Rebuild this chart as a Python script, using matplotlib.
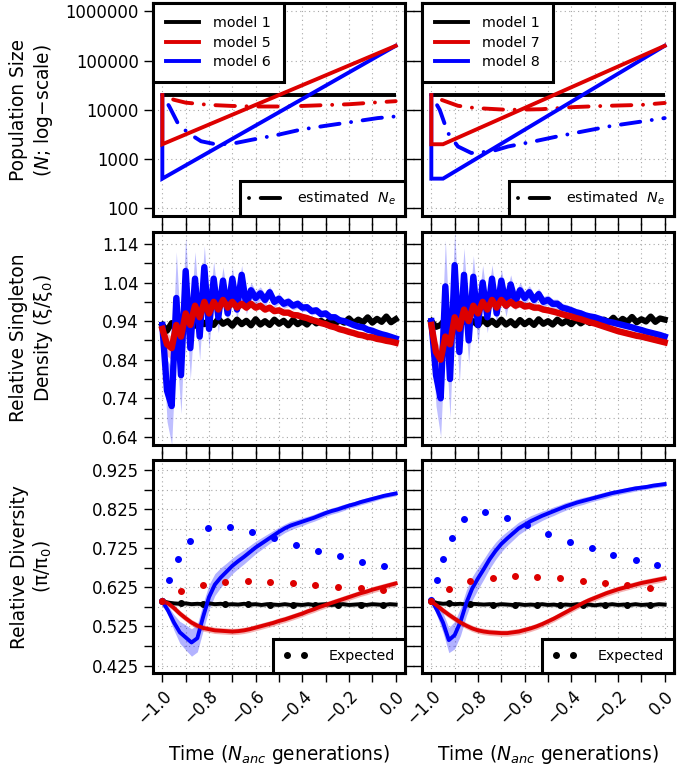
import numpy as np
import matplotlib
matplotlib.use("Agg")
import matplotlib.pyplot as plt
from matplotlib.lines import Line2D
from matplotlib.ticker import NullLocator

plt.rcParams['font.family'] = ['DejaVu Sans']
plt.rcParams['mathtext.fontset'] = 'dejavusans'

BLACK = '#000000'
RED = '#dd0000'
BLUE = '#0000ff'

# ---------------- top row: population size histories ----------------
m1_t = [-1.0, 0.0]
m1_n = [20000, 20000]
m5_t = [-1.0, -1.0, 0.0]
m5_n = [20000, 2000, 200000]
m6_t = [-1.0, -1.0, 0.0]
m6_n = [20000, 400, 200000]
m7_t = [-1.0, -1.0, -0.95, 0.0]
m7_n = [20000, 2000, 2000, 200000]
m8_t = [-1.0, -1.0, -0.95, 0.0]
m8_n = [20000, 400, 400, 200000]

# estimated Ne (dash-dot)
ne5_t = [-1.0, -0.95, -0.9, -0.8, -0.7, -0.6, -0.5, -0.4, -0.3, -0.2, -0.1, 0.0]
ne5 = [20000, 16000, 14000, 12600, 12000, 11700, 11700, 12000, 12500, 13000, 14000, 15000]
ne6_t = [-1.0, -0.97, -0.934, -0.89, -0.834, -0.763, -0.69, -0.62, -0.506, -0.406, -0.306, -0.191, -0.077, 0.0]
ne6 = [20000, 11700, 5400, 3400, 2300, 1960, 2100, 2450, 3100, 3970, 4700, 5650, 6800, 7350]
ne7_t = [-1.0, -0.957, -0.886, -0.814, -0.671, -0.529, -0.386, -0.243, -0.1, 0.0]
ne7 = [20000, 16000, 12100, 10900, 10000, 10300, 11400, 12100, 12600, 13800]
ne8_t = [-1.0, -0.964, -0.929, -0.886, -0.829, -0.743, -0.671, -0.557, -0.457, -0.343, -0.229, -0.114, 0.0]
ne8 = [20000, 10000, 3400, 1800, 1330, 1430, 1800, 2300, 2900, 3700, 4700, 5650, 6800]

# ---------------- middle row: relative singleton density ----------------
sfs_t = np.linspace(-1.0, 0.0, 51)
xi_m1_left = [0.930, 0.915, 0.935, 0.925, 0.945, 0.930, 0.940, 0.928, 0.945, 0.932,
              0.942, 0.930, 0.946, 0.933, 0.940, 0.928, 0.944, 0.932, 0.941, 0.929,
              0.945, 0.931, 0.940, 0.930, 0.944, 0.933, 0.941, 0.929, 0.943, 0.932,
              0.940, 0.931, 0.944, 0.934, 0.941, 0.932, 0.945, 0.934, 0.942, 0.936,
              0.947, 0.935, 0.944, 0.937, 0.950, 0.936, 0.946, 0.938, 0.952, 0.937, 0.945]
xi_m6_left = [0.93, 0.76, 0.72, 1.00, 0.80, 1.07, 0.87, 1.05, 0.90, 1.08,
              0.92, 1.05, 0.95, 1.045, 0.96, 1.05, 0.97, 1.06, 0.98, 1.02,
              1.00, 1.012, 0.995, 1.015, 0.99, 0.998, 0.985, 0.99, 0.98, 0.985,
              0.975, 0.976, 0.966, 0.968, 0.958, 0.96, 0.95, 0.95, 0.942, 0.94,
              0.935, 0.93, 0.926, 0.924, 0.918, 0.915, 0.91, 0.906, 0.903, 0.899, 0.895]
xi_m5_left = [0.92, 0.88, 0.87, 0.93, 0.90, 0.96, 0.93, 0.98, 0.95, 0.99,
              0.96, 0.99, 0.97, 0.995, 0.975, 0.99, 0.975, 0.985, 0.975, 0.985,
              0.975, 0.98, 0.97, 0.975, 0.966, 0.968, 0.962, 0.962, 0.956, 0.955,
              0.951, 0.948, 0.943, 0.94, 0.935, 0.932, 0.927, 0.924, 0.919, 0.916,
              0.912, 0.909, 0.905, 0.903, 0.899, 0.898, 0.894, 0.892, 0.889, 0.887, 0.884]
xi_m1_right = [0.940, 0.925, 0.930, 0.945, 0.930, 0.942, 0.928, 0.944, 0.931, 0.940,
               0.929, 0.945, 0.932, 0.941, 0.930, 0.944, 0.931, 0.940, 0.929, 0.943,
               0.932, 0.941, 0.930, 0.945, 0.933, 0.940, 0.931, 0.944, 0.934, 0.941,
               0.932, 0.945, 0.934, 0.942, 0.935, 0.946, 0.936, 0.944, 0.937, 0.949,
               0.936, 0.946, 0.938, 0.951, 0.937, 0.945, 0.939, 0.952, 0.938, 0.947, 0.944]
xi_m8_right = [0.94, 0.80, 0.74, 1.03, 0.79, 1.085, 0.86, 1.06, 0.89, 1.055,
               0.93, 1.04, 0.95, 1.05, 0.96, 1.045, 0.98, 1.035, 0.99, 1.02,
               1.00, 1.015, 0.995, 1.01, 0.99, 0.995, 0.985, 0.985, 0.975, 0.972,
               0.968, 0.963, 0.96, 0.955, 0.952, 0.95, 0.946, 0.942, 0.938, 0.936,
               0.933, 0.93, 0.927, 0.924, 0.92, 0.917, 0.913, 0.91, 0.907, 0.904, 0.90]
xi_m7_right = [0.93, 0.86, 0.84, 0.90, 0.88, 0.95, 0.92, 0.97, 0.94, 0.98,
               0.96, 0.99, 0.97, 0.995, 0.975, 0.995, 0.98, 0.99, 0.98, 0.985,
               0.978, 0.98, 0.975, 0.975, 0.97, 0.968, 0.965, 0.962, 0.958, 0.955,
               0.952, 0.948, 0.945, 0.941, 0.937, 0.934, 0.93, 0.926, 0.922, 0.918,
               0.914, 0.911, 0.908, 0.905, 0.902, 0.9, 0.897, 0.894, 0.891, 0.888, 0.885]
xi_blue_spread = [0.01, 0.08, 0.10, 0.12, 0.10, 0.09, 0.08, 0.07, 0.06, 0.055,
                  0.05, 0.045, 0.04, 0.036, 0.032, 0.03, 0.028, 0.025, 0.022, 0.02,
                  0.018, 0.017, 0.016, 0.015, 0.014, 0.013, 0.012, 0.012, 0.011, 0.011,
                  0.010, 0.010, 0.010, 0.009, 0.009, 0.009, 0.009, 0.008, 0.008, 0.008,
                  0.008, 0.008, 0.008, 0.007, 0.007, 0.007, 0.007, 0.007, 0.007, 0.007, 0.007]
xi_red_spread = [0.005, 0.03, 0.03, 0.03, 0.028, 0.025, 0.022, 0.02, 0.018, 0.016,
                 0.015, 0.014, 0.013, 0.012, 0.011, 0.010, 0.010, 0.009, 0.009, 0.008,
                 0.008, 0.008, 0.008, 0.008, 0.007, 0.007, 0.007, 0.007, 0.007, 0.007,
                 0.007, 0.007, 0.006, 0.006, 0.006, 0.006, 0.006, 0.006, 0.006, 0.006,
                 0.006, 0.006, 0.006, 0.006, 0.006, 0.006, 0.006, 0.006, 0.006, 0.006, 0.006]
xi_black_spread = 0.006

# ---------------- bottom row: relative diversity ----------------
pi_t = np.linspace(-1.0, 0.0, 41)
pi_m1_left = [0.589, 0.586, 0.584, 0.583, 0.584, 0.582, 0.583, 0.582, 0.584, 0.582,
              0.583, 0.581, 0.582, 0.581, 0.583, 0.581, 0.582, 0.580, 0.582, 0.581,
              0.580, 0.582, 0.580, 0.581, 0.580, 0.582, 0.580, 0.581, 0.582, 0.580,
              0.581, 0.582, 0.580, 0.581, 0.582, 0.580, 0.582, 0.581, 0.580, 0.582, 0.581]
pi_m6_left = [0.589, 0.565, 0.535, 0.51, 0.497, 0.484, 0.495, 0.55, 0.60, 0.632,
              0.65, 0.665, 0.68, 0.692, 0.703, 0.715, 0.727, 0.737, 0.747, 0.757,
              0.767, 0.776, 0.783, 0.788, 0.793, 0.798, 0.803, 0.809, 0.815, 0.82,
              0.824, 0.829, 0.834, 0.838, 0.843, 0.847, 0.851, 0.855, 0.859, 0.862, 0.865]
pi_m5_left = [0.589, 0.584, 0.572, 0.558, 0.546, 0.535, 0.527, 0.521, 0.518, 0.515,
              0.514, 0.513, 0.512, 0.513, 0.515, 0.518, 0.522, 0.526, 0.530, 0.534,
              0.539, 0.543, 0.548, 0.553, 0.558, 0.564, 0.569, 0.575, 0.580, 0.585,
              0.590, 0.595, 0.600, 0.605, 0.610, 0.614, 0.619, 0.623, 0.627, 0.631, 0.635]
pi_m1_right = [0.590, 0.585, 0.583, 0.584, 0.582, 0.583, 0.581, 0.583, 0.582, 0.581,
               0.582, 0.580, 0.582, 0.581, 0.580, 0.582, 0.580, 0.581, 0.580, 0.582,
               0.580, 0.581, 0.579, 0.581, 0.580, 0.582, 0.580, 0.581, 0.579, 0.581,
               0.580, 0.582, 0.580, 0.581, 0.580, 0.582, 0.580, 0.581, 0.580, 0.582, 0.581]
pi_m8_right = [0.593, 0.566, 0.535, 0.49, 0.503, 0.537, 0.585, 0.622, 0.648, 0.672,
               0.697, 0.718, 0.736, 0.75, 0.763, 0.776, 0.785, 0.794, 0.801, 0.808,
               0.814, 0.82, 0.826, 0.832, 0.837, 0.842, 0.846, 0.85, 0.854, 0.858,
               0.862, 0.866, 0.869, 0.872, 0.875, 0.878, 0.88, 0.882, 0.885, 0.887, 0.889]
pi_m7_right = [0.589, 0.578, 0.566, 0.555, 0.545, 0.535, 0.527, 0.52, 0.515, 0.512,
               0.51, 0.509, 0.508, 0.508, 0.51, 0.512, 0.516, 0.52, 0.525, 0.531,
               0.538, 0.545, 0.553, 0.561, 0.569, 0.577, 0.585, 0.592, 0.598, 0.604,
               0.61, 0.615, 0.62, 0.624, 0.628, 0.632, 0.636, 0.639, 0.642, 0.645, 0.648]
pi_blue_spread_left = [0.005, 0.012, 0.02, 0.028, 0.032, 0.035, 0.035, 0.035, 0.032, 0.028,
                       0.025, 0.022, 0.02, 0.019, 0.018, 0.017, 0.016, 0.015, 0.014, 0.013,
                       0.012, 0.011, 0.011, 0.010, 0.010, 0.009, 0.009, 0.009, 0.008, 0.008,
                       0.008, 0.008, 0.007, 0.007, 0.007, 0.007, 0.007, 0.006, 0.006, 0.006, 0.006]
pi_blue_spread_right = [0.005, 0.015, 0.025, 0.032, 0.035, 0.035, 0.033, 0.03, 0.028, 0.026,
                        0.024, 0.022, 0.02, 0.018, 0.017, 0.016, 0.015, 0.014, 0.013, 0.012,
                        0.011, 0.011, 0.010, 0.010, 0.009, 0.009, 0.009, 0.008, 0.008, 0.008,
                        0.008, 0.007, 0.007, 0.007, 0.007, 0.007, 0.006, 0.006, 0.006, 0.006, 0.006]
pi_red_spread = 0.008
pi_black_spread = 0.006

# expected diversity (dots)
exp6_t = [-1.0, -0.97, -0.934, -0.88, -0.803, -0.709, -0.614, -0.52, -0.427, -0.333, -0.24, -0.146, -0.051]
exp6 = [0.591, 0.644, 0.697, 0.744, 0.778, 0.78, 0.767, 0.75, 0.732, 0.718, 0.704, 0.691, 0.68]
exp5_t = [-1.0, -0.92, -0.827, -0.731, -0.634, -0.539, -0.441, -0.344, -0.246, -0.149, -0.053]
exp5 = [0.589, 0.616, 0.63, 0.639, 0.64, 0.638, 0.635, 0.63, 0.627, 0.623, 0.618]
exp1_left = [0.589, 0.584, 0.583, 0.582, 0.582, 0.581, 0.581, 0.581, 0.581, 0.581, 0.581]
exp8_t = [-1.0, -0.977, -0.949, -0.911, -0.86, -0.77, -0.677, -0.589, -0.499, -0.406, -0.313, -0.22, -0.124, -0.031]
exp8 = [0.593, 0.644, 0.698, 0.752, 0.8, 0.817, 0.803, 0.785, 0.761, 0.742, 0.725, 0.708, 0.695, 0.682]
exp7_t = [-1.0, -0.924, -0.834, -0.737, -0.641, -0.546, -0.449, -0.351, -0.256, -0.16, -0.063]
exp7 = [0.589, 0.621, 0.64, 0.65, 0.653, 0.651, 0.648, 0.642, 0.637, 0.631, 0.624]
exp1_right = [0.589, 0.584, 0.582, 0.581, 0.581, 0.581, 0.581, 0.581, 0.581, 0.581, 0.581]

# ticks
x_ticks = [-1.0, -0.9, -0.8, -0.7, -0.6, -0.5, -0.4, -0.3, -0.2, -0.1, 0.0]
x_labels = ['\u22121.0', '', '\u22120.8', '', '\u22120.6', '', '\u22120.4', '', '\u22120.2', '', '0.0']
n_ticks = [100, 1000, 10000, 100000, 1000000]
n_labels = ['100', '1000', '10000', '100000', '1000000']
xi_ticks = [0.64, 0.69, 0.74, 0.79, 0.84, 0.89, 0.94, 0.99, 1.04, 1.09, 1.14]
xi_labels = ['0.64', '', '0.74', '', '0.84', '', '0.94', '', '1.04', '', '1.14']
pi_ticks = [0.425, 0.475, 0.525, 0.575, 0.625, 0.675, 0.725, 0.775, 0.825, 0.875, 0.925]
pi_labels = ['0.425', '', '0.525', '', '0.625', '', '0.725', '', '0.825', '', '0.925']

# ---------------- layout ----------------
W, H = 678, 769
fig = plt.figure(figsize=(W / 100, H / 100), dpi=100)


def box(l, t, r, b):
    return [l / W, 1 - b / H, (r - l) / W, (b - t) / H]


cols = [(153, 405), (422, 674)]
rows = [(3, 216), (232, 445), (460, 673)]
axes = [[fig.add_axes(box(c[0], r[0], c[1], r[1])) for c in cols] for r in rows]

TICK_FS = 11.9
LEG_FS = 10.3
LAB_FS = 13.4


def style(ax, row, col):
    for s in ax.spines.values():
        s.set_linewidth(2.2)
    ax.set_xlim(-1.04, 0.04)
    ax.set_xticks(x_ticks)
    if row == 2:
        ax.set_xticklabels(x_labels, rotation=45, ha='right', rotation_mode='anchor')
    ax.tick_params(direction='out', length=6.2, width=1.0, labelsize=TICK_FS, pad=4,
                   top=row > 0, right=col == 0, bottom=True, left=True,
                   labelbottom=row == 2, labelleft=col == 0)
    ax.grid(True, color='#a8a8a8', linestyle=(0, (1, 3)), linewidth=0.8)
    ax.set_axisbelow(True)


def legend_frame(leg):
    f = leg.get_frame()
    f.set_linewidth(2.2)
    f.set_edgecolor('black')
    f.set_alpha(1)


ne_style = dict(linestyle=(0, (0.01, 3, 5, 3)), dash_capstyle='round', lw=2.8)

# ---- top row ----
for col, (ta, na, tb, nb, nea_t, nea, neb_t, neb, la, lb) in enumerate([
        (m5_t, m5_n, m6_t, m6_n, ne5_t, ne5, ne6_t, ne6, 'model 5', 'model 6'),
        (m7_t, m7_n, m8_t, m8_n, ne7_t, ne7, ne8_t, ne8, 'model 7', 'model 8')]):
    ax = axes[0][col]
    ax.set_yscale('log')
    ax.plot(nea_t, nea, color=RED, **ne_style)
    ax.plot(neb_t, neb, color=BLUE, **ne_style)
    ax.plot(m1_t, m1_n, color=BLACK, lw=2.8, solid_capstyle='butt')
    ax.plot(tb, nb, color=BLUE, lw=2.8, solid_joinstyle='miter')
    ax.plot(ta, na, color=RED, lw=2.8, solid_joinstyle='miter')
    ax.set_ylim(10 ** 1.843, 10 ** 6.171)
    ax.set_yticks(n_ticks)
    ax.set_yticklabels(n_labels)
    ax.yaxis.set_minor_locator(NullLocator())
    style(ax, 0, col)
    h = [Line2D([], [], color=BLACK, lw=2.8), Line2D([], [], color=RED, lw=2.8),
         Line2D([], [], color=BLUE, lw=2.8)]
    leg1 = ax.legend(h, ['model 1', la, lb], loc='upper left', borderaxespad=0,
                     fancybox=False, fontsize=LEG_FS, handlelength=2.3, handletextpad=1.0,
                     labelspacing=0.4, borderpad=0.9)
    legend_frame(leg1)
    ax.add_artist(leg1)
    hn = Line2D([], [], color=BLACK, **ne_style)
    leg2 = ax.legend([hn], ['estimated  $N_e$'], loc='lower right', borderaxespad=0,
                     fancybox=False, fontsize=LEG_FS, handlelength=2.5, handletextpad=0.9,
                     borderpad=0.6)
    legend_frame(leg2)

# ---- middle row ----
for col, (k, b, r) in enumerate([(xi_m1_left, xi_m6_left, xi_m5_left),
                                 (xi_m1_right, xi_m8_right, xi_m7_right)]):
    ax = axes[1][col]
    k = np.array(k); b = np.array(b); r = np.array(r)
    ax.fill_between(sfs_t, k - xi_black_spread, k + xi_black_spread, color='#888888', alpha=0.35, lw=0)
    ax.fill_between(sfs_t, b - np.array(xi_blue_spread), b + np.array(xi_blue_spread),
                    color=BLUE, alpha=0.25, lw=0)
    ax.fill_between(sfs_t, r - np.array(xi_red_spread), r + np.array(xi_red_spread),
                    color=RED, alpha=0.25, lw=0)
    ax.plot(sfs_t, k, color=BLACK, lw=4.4)
    ax.plot(sfs_t, b, color=BLUE, lw=4.6)
    ax.plot(sfs_t, r, color=RED, lw=4.6)
    ax.set_ylim(0.619, 1.171)
    ax.set_yticks(xi_ticks)
    ax.set_yticklabels(xi_labels)
    style(ax, 1, col)

# ---- bottom row ----
for col, (k, b, r, bs, e1, eb_t, eb, er_t, er) in enumerate([
        (pi_m1_left, pi_m6_left, pi_m5_left, pi_blue_spread_left, exp1_left, exp6_t, exp6, exp5_t, exp5),
        (pi_m1_right, pi_m8_right, pi_m7_right, pi_blue_spread_right, exp1_right, exp8_t, exp8, exp7_t, exp7)]):
    ax = axes[2][col]
    k = np.array(k); b = np.array(b); r = np.array(r); bs = np.array(bs)
    ax.plot(er_t, e1, 'o', color=BLACK, ms=4)
    ax.fill_between(pi_t, k - pi_black_spread, k + pi_black_spread, color='#888888', alpha=0.35, lw=0)
    ax.fill_between(pi_t, b - bs, b + bs, color=BLUE, alpha=0.3, lw=0)
    ax.fill_between(pi_t, r - pi_red_spread, r + pi_red_spread, color=RED, alpha=0.3, lw=0)
    ax.plot(pi_t, k, color=BLACK, lw=2.8)
    ax.plot(pi_t, b, color=BLUE, lw=2.8)
    ax.plot(pi_t, r, color=RED, lw=2.8)
    ax.plot(eb_t, eb, 'o', color=BLUE, ms=4)
    ax.plot(er_t, er, 'o', color=RED, ms=4)
    ax.set_ylim(0.406, 0.9506)
    ax.set_yticks(pi_ticks)
    ax.set_yticklabels(pi_labels)
    style(ax, 2, col)
    he = Line2D([], [], color=BLACK, marker='o', linestyle='none', ms=4)
    leg = ax.legend([he], ['Expected'], loc='lower right', borderaxespad=0, numpoints=2,
                    fancybox=False, fontsize=LEG_FS, handlelength=1.8, handletextpad=1.4,
                    borderpad=0.7)
    legend_frame(leg)

# ---- axis titles ----
ylab_x = 32 / W
fig.text(ylab_x, 1 - 110 / H, 'Population Size\n($N$; log\u2212scale)', rotation=90,
         ha='center', va='center', fontsize=LAB_FS, linespacing=1.2)
fig.text(ylab_x, 1 - 338 / H, 'Relative Singleton\nDensity (\u03be/\u03be$_0$)', rotation=90,
         ha='center', va='center', fontsize=LAB_FS, linespacing=1.2)
fig.text(ylab_x, 1 - 567 / H, 'Relative Diversity\n(\u03c0/\u03c0$_0$)', rotation=90,
         ha='center', va='center', fontsize=LAB_FS, linespacing=1.2)
for c in cols:
    fig.text((c[0] + c[1]) / 2 / W, 1 - 755 / H, 'Time ($N_{anc}$ generations)',
             ha='center', va='center', fontsize=LAB_FS)

fig.savefig('out.png', dpi=100)
